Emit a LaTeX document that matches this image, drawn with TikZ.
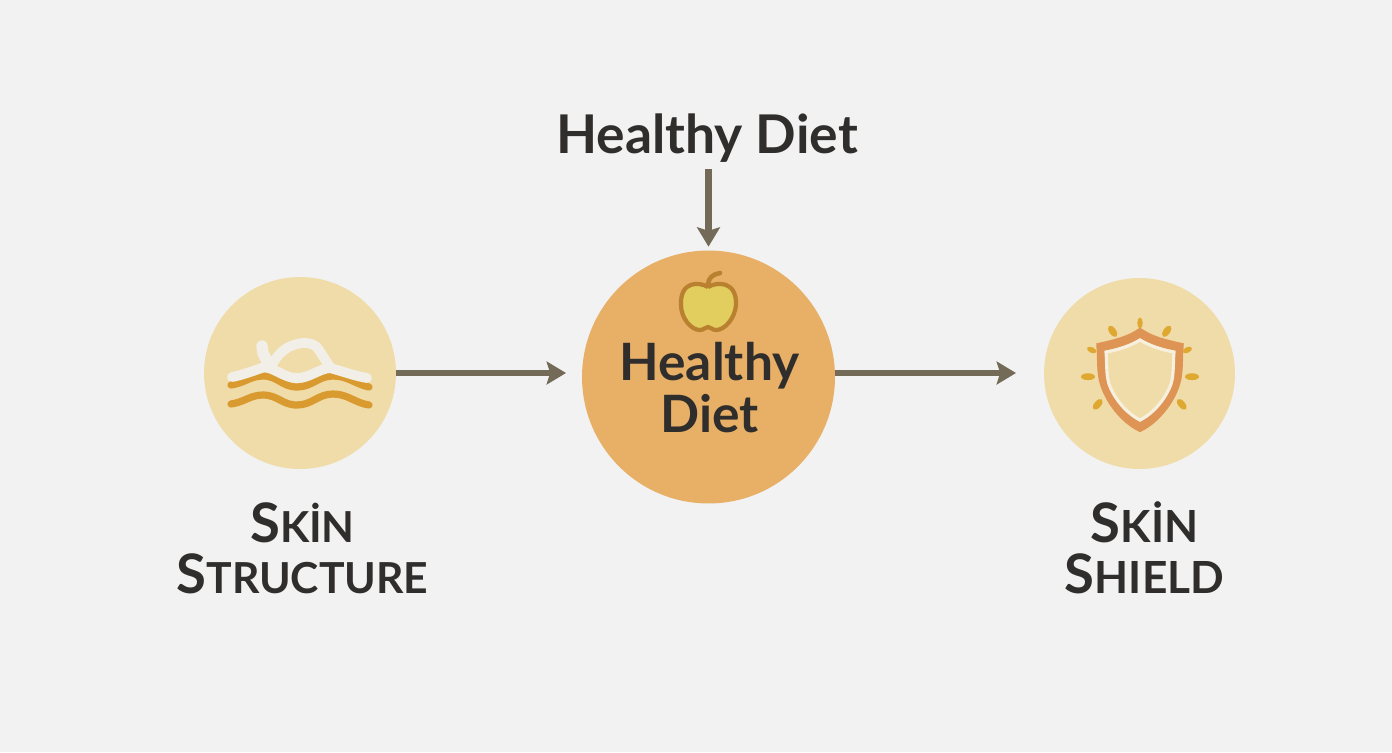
\documentclass[tikz,border=0pt]{standalone}
\usepackage{fontspec}
\setmainfont{Lato}
\usetikzlibrary{arrows.meta}
\definecolor{pagegrey}{HTML}{F2F2F2}
\definecolor{paleyellow}{HTML}{F0DCA8}
\definecolor{dietorange}{HTML}{E8B066}
\definecolor{arrowbrown}{HTML}{736A58}
\definecolor{inkdark}{HTML}{2F2E2C}
\definecolor{wavegold}{HTML}{D99A30}
\definecolor{waveswhite}{HTML}{F1EFE8}
\definecolor{shieldorange}{HTML}{DD9455}
\definecolor{shieldwhite}{HTML}{F7F0DE}
\definecolor{raygold}{HTML}{DFA830}
\definecolor{applefill}{HTML}{E2CD5F}
\definecolor{applerim}{HTML}{B8802F}
\tikzset{
    smallcircle/.style = {circle,fill=paleyellow,inner sep=0pt},
    dietcircle/.style = {circle,fill=dietorange,inner sep=0pt,minimum size=5.06cm},
    heading/.style = {text=inkdark,font=\fontsize{30.4}{29.5}\selectfont\bfseries,align=center,inner sep=0pt},
    capslabel/.style = {text=inkdark,font=\fontsize{24.3}{29}\selectfont\bfseries,align=center,inner sep=0pt},
    flow/.style = {draw=arrowbrown,line width=3.5pt,-{Stealth[length=11pt,width=13pt,inset=2pt]}},
    goldwave/.style = {draw=wavegold,line width=4.1pt,line cap=round},
    whitewave/.style = {draw=waveswhite,line width=5.6pt,line cap=round,line join=round},
}
\newcommand{\bigS}{{\fontsize{31}{29}\selectfont S}}
\begin{document}
\begin{tikzpicture}[x=0.02cm,y=-0.02cm]
        \fill[pagegrey] (0,0) rectangle (1392,752);
        \useasboundingbox (0,0) rectangle (1392,752);
        \node[smallcircle,minimum size=3.84cm] (skin) at (300,373) {};
        \node[dietcircle] (diet) at (708.5,377) {};
        \node[smallcircle,minimum size=3.82cm] (shield) at (1139.5,373.5) {};
        \coordinate (dietin) at (566,373);
        \coordinate (shieldin) at (1016,373);
        \node[heading,anchor=base] (dietlabel) at (707,153) {Healthy Diet};
        \node[heading,anchor=base,font=\fontsize{29.3}{29.5}\selectfont\bfseries] (dietname) at (709.5,432) {Healthy\\Diet};
        \node[capslabel,anchor=base] (skinname) at (302.5,593) {\bigS K\.{I}N\\\bigS TRUCTURE};
        \node[capslabel,anchor=base,font=\fontsize{25.2}{29}\selectfont\bfseries] (shieldname) at (1144.5,593) {\bigS K\.{I}N\\\bigS HIELD};
        \draw[flow,shorten <=4pt,shorten >=2pt] (dietlabel.south -| diet) -- (diet);
        \draw[flow] (skin.east) -- (dietin);
        \draw[flow] (diet.east |- shieldin) -- (shieldin);
        \draw[goldwave] (231,404) .. controls (245,402) and (250,395) .. (263,395) .. controls (278,395) and (282,405) .. (297,405) .. controls (312,405) and (318,394) .. (333,394) .. controls (348,394) and (355,403) .. (369,405);
        \draw[goldwave] (231,385) .. controls (245,383) and (250,376) .. (263,376) .. controls (278,376) and (282,387) .. (297,387) .. controls (312,387) and (318,376) .. (333,376) .. controls (348,376) and (355,384) .. (369,387);
        \draw[whitewave] (232,377) .. controls (243,375) and (255,370) .. (265,367) .. controls (278,370) and (285,378) .. (297,378) .. controls (310,378) and (318,369) .. (330,368) .. controls (345,372) and (355,376) .. (367,378);
        \draw[whitewave] (272,365) .. controls (276,358) and (283,345) .. (303,343) .. controls (312,343) and (316,345) .. (319,350) -- (330,367);
        \draw[whitewave,line width=6.5pt] (262,346) -- (263,353) -- (269,365);
        \draw[draw=applerim,line width=2.4pt,fill=applefill] (708,287) .. controls (716,282) and (737,280) .. (736,305) .. controls (735,318) and (725,330) .. (716,330) .. controls (712,330) and (711,327) .. (708,327) .. controls (705,327) and (704,330) .. (700,330) .. controls (691,330) and (681,318) .. (681,305) .. controls (680,280) and (700,282) .. (708,287);
        \draw[draw=applerim,line width=2.6pt,line cap=round] (708,285) .. controls (708,278) and (713,274) .. (720,273);
        \draw[draw=shieldorange,line width=5.2pt,line join=miter] (1140,333) .. controls (1128,341) and (1114,344) .. (1101,347) .. controls (1102,360) and (1101,372) .. (1104,382) .. controls (1109,400) and (1124,419) .. (1140,427) .. controls (1156,419) and (1171,400) .. (1176,382) .. controls (1179,372) and (1178,360) .. (1179,347) .. controls (1166,344) and (1152,341) .. (1140,333) -- cycle;
        \draw[draw=shieldwhite,line width=1.8pt] (1140,340) .. controls (1130,346) and (1118,350) .. (1106,352) .. controls (1107,362) and (1106,374) .. (1109,384) .. controls (1114,398) and (1126,413) .. (1140,420) .. controls (1154,413) and (1166,398) .. (1171,384) .. controls (1174,374) and (1173,362) .. (1174,352) .. controls (1162,350) and (1150,346) .. (1140,340) -- cycle;
        \foreach \rx/\ry/\ra/\rb/\rc in {1140/323/5.5/2.7/90,1112.7/331.3/6.5/3.4/-55,1166.7/331.3/6.5/3.4/55,1091.7/350/5/2.8/-25,1187.3/350/5/2.8/25,1088/376.7/7/3.4/0,1192/376.7/7/3.4/0,1097.7/404.3/6.5/3.4/50,1181.7/404.3/6.5/3.4/-50}
            \fill[raygold,shift={(\rx,\ry)},rotate=\rc] (0,0) ellipse [x radius=\ra,y radius=\rb];
    \end{tikzpicture}
\end{document}
